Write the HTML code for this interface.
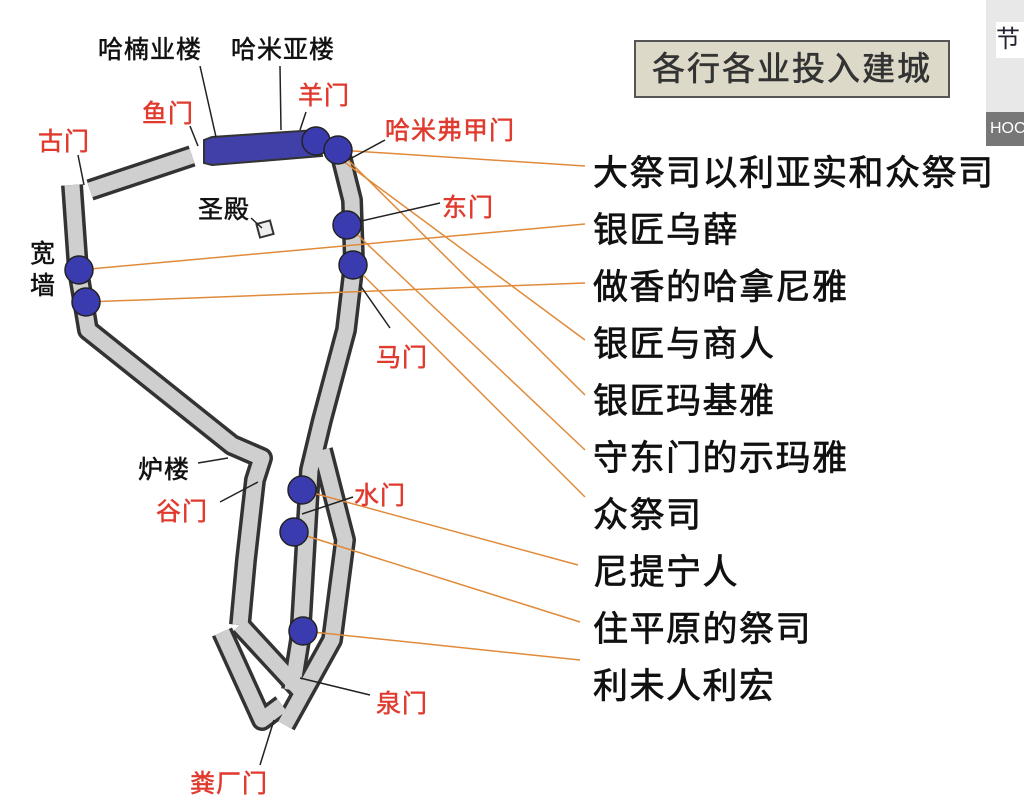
<!DOCTYPE html>
<html><head><meta charset="utf-8"><style>
body{margin:0;width:1024px;height:804px;background:#fff;overflow:hidden;font-family:"Liberation Sans","Noto Sans CJK SC",sans-serif;position:relative}
.t{position:absolute;white-space:nowrap}
.r{color:#e03a2e;font-size:25px;letter-spacing:1px;-webkit-text-stroke:0.5px #e03a2e}
.k{color:#111;font-size:25px;letter-spacing:1px;-webkit-text-stroke:0.5px #111}
.L{font-size:35px;color:#111;left:593px;letter-spacing:1.5px;-webkit-text-stroke:0.7px #111}
</style></head><body>
<svg width="1024" height="804" style="position:absolute;left:0;top:0">
<g fill="none" stroke-linejoin="round">
<g stroke="#333" stroke-width="22">
<polyline points="72,185 78,270 88,330 232,445 262,458 255,480 246,560 240,625"/>
<polyline points="90,190 192,156"/>
<polyline points="340,152 352,200 354,262 346,330 322,420 310,470 300,640 292,690"/>
<polyline points="322,450 345,540 332,640 285,725"/>
<polyline points="222,632 262,720 282,705"/>
<polyline points="240,625 300,690"/>
</g>
<g stroke="#cfcfcf" stroke-width="15">
<polyline points="72,185 78,270 88,330 232,445 262,458 255,480 246,560 240,625"/>
<polyline points="90,190 192,156"/>
<polyline points="340,152 352,200 354,262 346,330 322,420 310,470 300,640 292,690"/>
<polyline points="322,450 345,540 332,640 285,725"/>
<polyline points="222,632 262,720 282,705"/>
<polyline points="240,625 300,690"/>
</g>
</g>
<rect x="258" y="222" width="14" height="14" fill="#eee" stroke="#333" stroke-width="2" transform="rotate(-15 265 229)"/>
<polygon points="204,140 212,137 316,130 322,156 212,165 204,163" fill="#4040a8" stroke="#333" stroke-width="2"/>
<g stroke="#e08a3a" stroke-width="1.5">
<line x1="338" y1="150" x2="585" y2="166"/>
<line x1="79" y1="270" x2="585" y2="224"/>
<line x1="86" y1="302" x2="585" y2="283"/>
<line x1="316" y1="141" x2="585" y2="340"/>
<line x1="338" y1="150" x2="585" y2="395"/>
<line x1="347" y1="225" x2="585" y2="450"/>
<line x1="353" y1="265" x2="585" y2="497"/>
<line x1="302" y1="490" x2="578" y2="565"/>
<line x1="294" y1="532" x2="580" y2="622"/>
<line x1="303" y1="631" x2="580" y2="660"/>
</g>
<g stroke="#222" stroke-width="1.5">
<line x1="200" y1="66" x2="216" y2="137"/>
<line x1="280" y1="66" x2="281" y2="130"/>
<line x1="306" y1="112" x2="300" y2="130"/>
<line x1="190" y1="126" x2="198" y2="146"/>
<line x1="78" y1="155" x2="84" y2="185"/>
<line x1="385" y1="140" x2="348" y2="160"/>
<line x1="440" y1="203" x2="357" y2="222"/>
<line x1="251" y1="218" x2="262" y2="228"/>
<line x1="390" y1="328" x2="360" y2="285"/>
<line x1="198" y1="463" x2="228" y2="458"/>
<line x1="220" y1="502" x2="258" y2="482"/>
<line x1="353" y1="497" x2="302" y2="514"/>
<line x1="370" y1="695" x2="300" y2="678"/>
<line x1="260" y1="765" x2="274" y2="720"/>
</g>
<g fill="#3b3bb0" stroke="#222" stroke-width="1.5">
<circle cx="316" cy="141" r="14"/><circle cx="338" cy="150" r="14"/>
<circle cx="347" cy="225" r="14"/><circle cx="353" cy="265" r="14"/>
<circle cx="79" cy="270" r="14"/><circle cx="86" cy="302" r="14"/>
<circle cx="302" cy="490" r="14"/><circle cx="294" cy="532" r="14"/>
<circle cx="303" cy="631" r="14"/>
</g>
</svg>
<div class="t" style="left:634px;top:40px;width:312px;height:54px;background:#ddd9c8;border:2px solid #555;font-size:33px;-webkit-text-stroke:0.6px #333;letter-spacing:2px;line-height:54px;text-align:center;color:#333">各行各业投入建城</div>
<div class="t" style="left:986px;top:0;width:38px;height:140px;background:#e8e8e8"></div>
<div class="t" style="left:996px;top:22px;width:28px;height:36px;background:#fff;font-size:24px;line-height:36px;color:#223">节</div>
<div class="t" style="left:986px;top:112px;width:38px;height:34px;background:#777;color:#fff;font-size:16px;line-height:34px;padding-left:4px">HOC</div>
<div class="t k" style="left:98px;top:30px">哈楠业楼</div>
<div class="t k" style="left:231px;top:30px">哈米亚楼</div>
<div class="t r" style="left:298px;top:76px">羊门</div>
<div class="t r" style="left:142px;top:94px">鱼门</div>
<div class="t r" style="left:38px;top:122px">古门</div>
<div class="t r" style="left:385px;top:111px">哈米弗甲门</div>
<div class="t k" style="left:198px;top:190px">圣殿</div>
<div class="t r" style="left:442px;top:188px">东门</div>
<div class="t k" style="left:30px;top:238px;width:26px;line-height:32px;white-space:normal">宽墙</div>
<div class="t r" style="left:376px;top:338px">马门</div>
<div class="t k" style="left:138px;top:450px">炉楼</div>
<div class="t r" style="left:156px;top:492px">谷门</div>
<div class="t r" style="left:354px;top:476px">水门</div>
<div class="t r" style="left:376px;top:684px">泉门</div>
<div class="t r" style="left:190px;top:764px">粪厂门</div>
<div class="t L" style="top:145px">大祭司以利亚实和众祭司</div>
<div class="t L" style="top:202px">银匠乌薛</div>
<div class="t L" style="top:259px">做香的哈拿尼雅</div>
<div class="t L" style="top:316px">银匠与商人</div>
<div class="t L" style="top:373px">银匠玛基雅</div>
<div class="t L" style="top:430px">守东门的示玛雅</div>
<div class="t L" style="top:487px">众祭司</div>
<div class="t L" style="top:544px">尼提宁人</div>
<div class="t L" style="top:601px">住平原的祭司</div>
<div class="t L" style="top:658px">利未人利宏</div>
</body></html>
